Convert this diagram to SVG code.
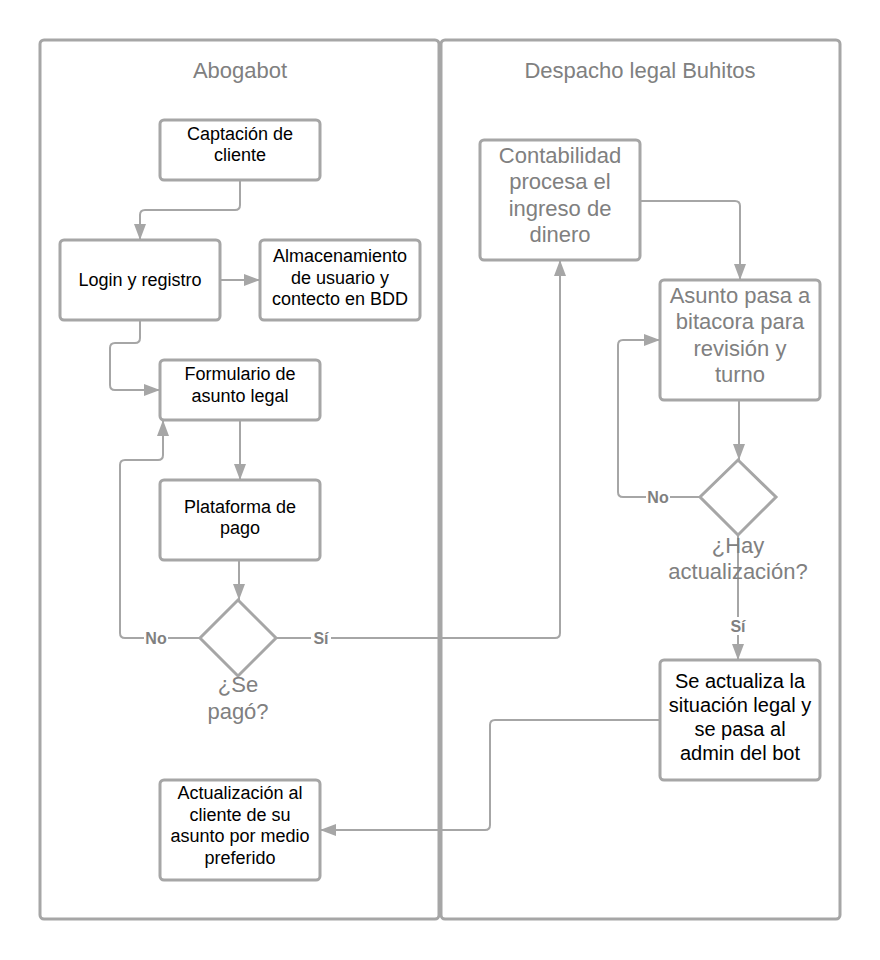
<svg xmlns="http://www.w3.org/2000/svg" width="880" height="960" viewBox="0 0 880 960">
<style>
.lane{fill:#fff;stroke:#a6a6a6;stroke-width:3}
.box{fill:#fff;stroke:#a6a6a6;stroke-width:3}
.dia{fill:#fff;stroke:#a6a6a6;stroke-width:3}
.con{fill:none;stroke:#a6a6a6;stroke-width:2}
.title{font-family:"Liberation Sans",Arial,sans-serif;font-size:22px;fill:#808080;text-anchor:middle}
.t{font-family:"Liberation Sans",Arial,sans-serif;font-size:18px;fill:#000;text-anchor:middle}
.tg{font-family:"Liberation Sans",Arial,sans-serif;font-size:22px;fill:#808080;text-anchor:middle}
.tb{font-family:"Liberation Sans",Arial,sans-serif;font-size:20px;fill:#000;text-anchor:middle}
.lbl{font-family:"Liberation Sans",Arial,sans-serif;font-size:16px;font-weight:bold;fill:#808080;text-anchor:middle;dominant-baseline:central}
</style>
<defs>
<marker id="ah" markerUnits="userSpaceOnUse" markerWidth="16" markerHeight="12" refX="16" refY="6" orient="auto">
<path d="M0,0 L16,6 L0,12 z" fill="#a6a6a6"/>
</marker>
</defs>
<rect width="880" height="960" fill="#fff"/>
<g id="lane-abogabot">
<rect class="lane" x="40" y="40" width="399" height="879" rx="4"/>
<text class="title" x="240" y="78">Abogabot</text>
</g>
<g id="lane-despacho">
<rect class="lane" x="441" y="40" width="399" height="879" rx="4"/>
<text class="title" x="640" y="78">Despacho legal Buhitos</text>
</g>
<g id="connectors">
<path class="con" d="M240,180 V205 Q240,210 235,210 H145 Q140,210 140,215 V240" marker-end="url(#ah)"/>
<path class="con" d="M220,280 H260" marker-end="url(#ah)"/>
<path class="con" d="M140,320 V338 Q140,343 135,343 H115 Q110,343 110,348 V385 Q110,390 115,390 H160" marker-end="url(#ah)"/>
<path class="con" d="M240,420 V480" marker-end="url(#ah)"/>
<path class="con" d="M239,560 V600" marker-end="url(#ah)"/>
<path class="con" d="M200,638 H125 Q120,638 120,633 V465 Q120,460 125,460 H158 Q163,460 163,455 V420" marker-end="url(#ah)"/>
<path class="con" d="M276,638 H555 Q560,638 560,633 V260" marker-end="url(#ah)"/>
<path class="con" d="M640,201 H735 Q740,201 740,206 V280" marker-end="url(#ah)"/>
<path class="con" d="M739,400 V460" marker-end="url(#ah)"/>
<path class="con" d="M700,497 H623 Q618,497 618,492 V345 Q618,340 623,340 H660" marker-end="url(#ah)"/>
<path class="con" d="M738,535 V660" marker-end="url(#ah)"/>
<path class="con" d="M660,720 H495 Q490,720 490,725 V825 Q490,830 485,830 H320" marker-end="url(#ah)"/>
<rect x="144" y="629" width="24" height="18" fill="#fff"/>
<text class="lbl" x="156" y="638">No</text>
<rect x="311" y="629" width="20" height="18" fill="#fff"/>
<text class="lbl" x="321" y="638">Sí</text>
<rect x="646" y="488" width="24" height="18" fill="#fff"/>
<text class="lbl" x="658" y="497">No</text>
<rect x="728" y="617" width="20" height="18" fill="#fff"/>
<text class="lbl" x="738" y="626">Sí</text>
</g>
<g id="captacion">
<rect class="box" x="160" y="120" width="160" height="60" rx="4"/>
<text class="t" x="240" y="140">Captación de</text>
<text class="t" x="240" y="161">cliente</text>
</g>
<g id="login">
<rect class="box" x="60" y="240" width="160" height="80" rx="4"/>
<text class="t" x="140" y="286">Login y registro</text>
</g>
<g id="almacenamiento">
<rect class="box" x="260" y="240" width="160" height="80" rx="4"/>
<text class="t" x="340" y="262">Almacenamiento</text>
<text class="t" x="340" y="283.5">de usuario y</text>
<text class="t" x="340" y="305">contecto en BDD</text>
</g>
<g id="formulario">
<rect class="box" x="160" y="360" width="160" height="60" rx="4"/>
<text class="t" x="240" y="380">Formulario de</text>
<text class="t" x="240" y="401.5">asunto legal</text>
</g>
<g id="plataforma">
<rect class="box" x="160" y="480" width="160" height="80" rx="4"/>
<text class="t" x="240" y="513">Plataforma de</text>
<text class="t" x="240" y="534">pago</text>
</g>
<g id="se-pago">
<polygon class="dia" points="238,600 276,638 238,676 200,638"/>
<text class="tg" x="238" y="692">¿Se</text>
<text class="tg" x="238" y="719">pagó?</text>
</g>
<g id="actualizacion-cliente">
<rect class="box" x="160" y="780" width="160" height="100" rx="4"/>
<text class="t" x="240" y="799">Actualización al</text>
<text class="t" x="240" y="820.6">cliente de su</text>
<text class="t" x="240" y="842.2">asunto por medio</text>
<text class="t" x="240" y="863.8">preferido</text>
</g>
<g id="contabilidad">
<rect class="box" x="480" y="140" width="160" height="120" rx="4"/>
<text class="tg" x="560" y="163">Contabilidad</text>
<text class="tg" x="560" y="189.4">procesa el</text>
<text class="tg" x="560" y="215.8">ingreso de</text>
<text class="tg" x="560" y="242.2">dinero</text>
</g>
<g id="asunto-bitacora">
<rect class="box" x="660" y="280" width="160" height="120" rx="4"/>
<text class="tg" x="740" y="303">Asunto pasa a</text>
<text class="tg" x="740" y="329.4">bitacora para</text>
<text class="tg" x="740" y="355.8">revisión y</text>
<text class="tg" x="740" y="382.2">turno</text>
</g>
<g id="hay-actualizacion">
<polygon class="dia" points="738,460 776,497 738,535 700,497"/>
<text class="tg" x="738" y="553">¿Hay</text>
<text class="tg" x="738" y="579">actualización?</text>
</g>
<g id="se-actualiza">
<rect class="box" x="660" y="660" width="160" height="120" rx="4"/>
<text class="tb" x="740" y="688">Se actualiza la</text>
<text class="tb" x="740" y="712">situación legal y</text>
<text class="tb" x="740" y="736">se pasa al</text>
<text class="tb" x="740" y="760">admin del bot</text>
</g>
</svg>
